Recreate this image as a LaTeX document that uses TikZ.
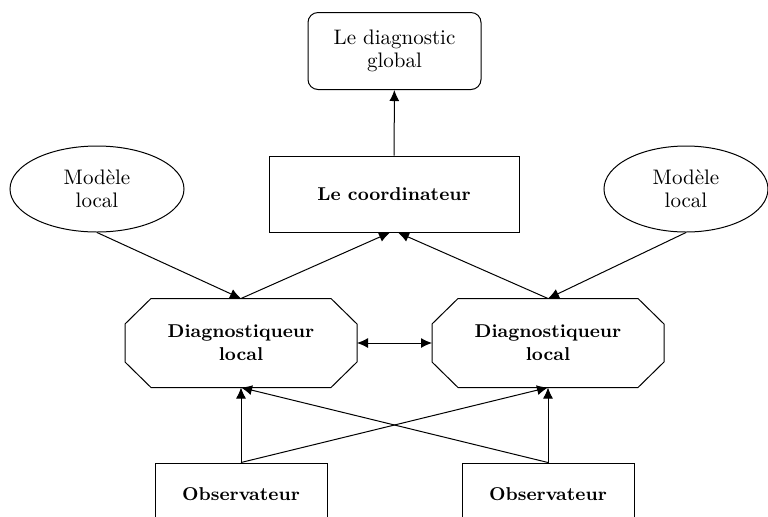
\documentclass[tikz,border=0pt]{standalone}
\usepackage{tikz}
\usetikzlibrary{shapes.geometric, arrows.meta}
\newcommand{\txtfont}{\fontsize{10.5}{11.5}\selectfont}
\newcommand{\bldfont}{\fontsize{9.3}{11.5}\selectfont\bfseries}
\tikzstyle{result} = [draw, rounded corners=5pt, rectangle, align=center,
    minimum width=86.5pt, minimum height=38.5pt, font=\txtfont]
\tikzstyle{block} = [draw, rectangle, align=center,
    minimum width=125pt, minimum height=38pt, font=\bldfont]
\tikzstyle{model} = [draw, ellipse, align=center, inner sep=0pt,
    minimum width=87pt, minimum height=43pt, font=\txtfont]
% octagon drawn round a plain rectangle node
\tikzstyle{diag} = [rectangle, align=center,
    minimum width=115.5pt, minimum height=44pt, font=\bldfont,
    append after command={\pgfextra{\draw
      ([xshift=13pt]\tikzlastnode.north west) -- ([xshift=-13pt]\tikzlastnode.north east)
      -- ([yshift=-12.75pt]\tikzlastnode.north east) -- ([yshift=12.75pt]\tikzlastnode.south east)
      -- ([xshift=-13pt]\tikzlastnode.south east) -- ([xshift=13pt]\tikzlastnode.south west)
      -- ([yshift=12.75pt]\tikzlastnode.south west) -- ([yshift=-12.75pt]\tikzlastnode.north west)
      -- cycle;}}]
\tikzstyle{obs} = [draw, rectangle, align=center,
    minimum width=86pt, minimum height=31pt, font=\bldfont]
\tikzstyle{arrow} = [line width=0.5pt, -{Latex[length=5.5pt,width=5pt]}]
\tikzstyle{darrow} = [line width=0.5pt, {Latex[length=5.5pt,width=5pt]}-{Latex[length=5.5pt,width=5pt]}]

\begin{document}
\begin{tikzpicture}[x=0.5pt, y=-0.5pt, line width=0.5pt]
        \clip (0, 0) rectangle (768, 516);

        \node [result] (glob) at (394.5, 51) {Le diagnostic\\global};
        \node [block] (coord) at (394, 194) {Le coordinateur};

        \node [model] (m0) at (97, 189) {Modèle\\local};
        \node [model, minimum width=82pt] (m1) at (686, 189) {Modèle\\local};

        \node [diag] (d0) at (241, 343) {Diagnostiqueur\\local};
        \node [diag] (d1) at (548, 343) {Diagnostiqueur\\local};

        \node [obs] (o0) at (241, 494) {Observateur};
        \node [obs] (o1) at (548, 494) {Observateur};

        \draw [arrow] (coord) -- (glob);
        \draw [arrow] (m0.south) -- (d0.north); \draw [arrow] (d0.north) -- ([xshift=-2pt]coord.south);
        \draw [arrow] (m1.south) -- (d1.north); \draw [arrow] (d1.north) -- ([xshift=2pt]coord.south);
        \draw [darrow] (d0) -- (d1);
        \draw [arrow] (o0.north) -- (d0.south); \draw [arrow] (o0.north) -- (d1.south);
        \draw [arrow] (o1.north) -- (d0.south); \draw [arrow] (o1.north) -- (d1.south);
\end{tikzpicture}
\end{document}
